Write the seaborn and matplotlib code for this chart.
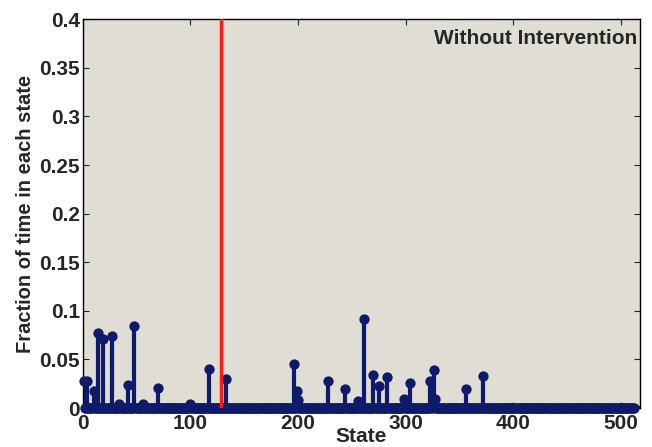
import matplotlib
matplotlib.use('Agg')
import matplotlib.pyplot as plt
import numpy as np
import pandas as pd
import seaborn as sns

# states with a visibly non-zero fraction of time
peak_states = [1, 4, 10, 14, 19, 27, 34, 42, 48, 56, 70, 100, 117, 133,
               196, 199, 200, 228, 244, 256, 261, 270, 275, 283, 298, 304,
               323, 326, 327, 356, 372]
peak_values = [0.028, 0.028, 0.018, 0.077, 0.071, 0.074, 0.004, 0.024, 0.084,
               0.004, 0.021, 0.004, 0.040, 0.030,
               0.045, 0.018, 0.008, 0.028, 0.020, 0.007, 0.0915, 0.034, 0.023,
               0.032, 0.009, 0.026, 0.028, 0.039, 0.009, 0.020, 0.033]
n_states = 512
marked_state = 128

frac = np.zeros(n_states)
frac[np.array(peak_states) - 1] = peak_values
df = pd.DataFrame({'state': np.arange(1, n_states + 1), 'fraction': frac})

sns.set_style('ticks')
plt.rcParams.update({'font.family': 'Liberation Sans',
                     'font.weight': 'bold',
                     'font.size': 15,
                     'axes.labelweight': 'bold',
                     'axes.linewidth': 1.0})

navy = '#0e1a6b'
fig = plt.figure(figsize=(6.52, 4.47), dpi=100)
ax = fig.add_axes([0.127, 0.087, 0.855, 0.870])
ax.set_facecolor('#e0ddd4')

ax.vlines(df['state'], 0, df['fraction'], color=navy, lw=3, zorder=2)
ax.axhline(0, color=navy, lw=3, zorder=2)
sns.scatterplot(ax=ax, x='state', y='fraction', data=df, color=navy,
                s=55, edgecolor=navy, linewidth=0, zorder=3, clip_on=False)
ax.axvline(marked_state, color='#ff1a1a', lw=2.5, zorder=4)

ax.set_xlim(0, 518)
ax.set_ylim(0, 0.4)
ax.set_xticks([0, 100, 200, 300, 400, 500])
ax.set_yticks(np.arange(0, 0.401, 0.05))
ax.set_yticklabels(['0', '0.05', '0.1', '0.15', '0.2', '0.25', '0.3', '0.35', '0.4'])
ax.tick_params(direction='in', top=True, right=True, length=4, labelsize=15)
ax.tick_params(axis='x', pad=4)
ax.tick_params(axis='y', pad=2)
for lbl in ax.get_xticklabels() + ax.get_yticklabels():
    lbl.set_fontweight('bold')
for s in ax.spines.values():
    s.set_visible(True)
    s.set_color('black')

ax.set_xlabel('State', fontsize=15, fontweight='bold', labelpad=-4)
ax.set_ylabel('Fraction of time in each state', fontsize=14.5, fontweight='bold', labelpad=3)
ax.text(0.995, 0.975, 'Without Intervention', transform=ax.transAxes,
        ha='right', va='top', fontsize=15, fontweight='bold')

fig.savefig('out.png', dpi=100)
